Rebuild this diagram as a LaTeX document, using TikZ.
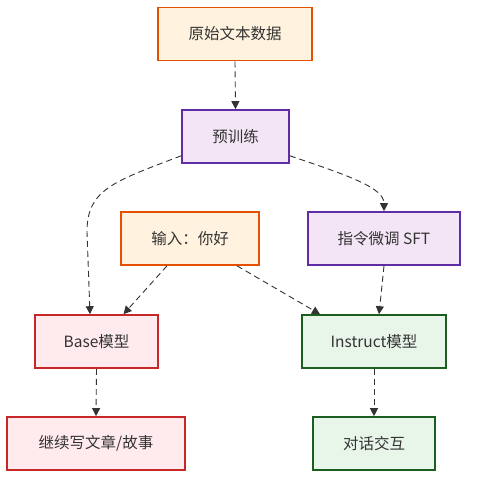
\documentclass[tikz,border=0pt]{standalone}
\usepackage{fontspec}
\setmainfont{Noto Sans CJK SC}
\usetikzlibrary{arrows.meta}
\definecolor{txt}{HTML}{333333}
\definecolor{orgB}{HTML}{E65100}\definecolor{orgF}{HTML}{FFF3E0}
\definecolor{purB}{HTML}{5E2CA5}\definecolor{purF}{HTML}{F3E5F5}
\definecolor{redB}{HTML}{C62828}\definecolor{redF}{HTML}{FFEBEE}
\definecolor{grnB}{HTML}{1B5E20}\definecolor{grnF}{HTML}{E8F5E9}
\tikzset{
  box/.style={rectangle, line width=1.6pt, inner sep=0pt, minimum height=53pt, text=txt, font=\fontsize{15.5}{18}\selectfont},
  orgbox/.style={box, draw=orgB, fill=orgF},
  purbox/.style={box, draw=purB, fill=purF},
  redbox/.style={box, draw=redB, fill=redF},
  grnbox/.style={box, draw=grnB, fill=grnF},
  link/.style={draw=txt, line width=0.9pt, dash pattern=on 6pt off 4pt, -{Triangle[length=8pt,width=8pt]}},
}
\begin{document}
\begin{tikzpicture}[x=1pt,y=-1pt]
\useasboundingbox (0,0) rectangle (476,486);
\node[orgbox, minimum width=154pt] (raw) at (235,34) {原始文本数据};
\node[purbox, minimum width=107pt] (pre) at (235.5,136.5) {预训练};
\node[orgbox, minimum width=138pt] (inp) at (190,238.5) {输入：你好};
\node[purbox, minimum width=152pt] (sft) at (384,238.5) {指令微调 SFT};
\node[redbox, minimum width=123pt] (base) at (96.5,341.5) {Base模型};
\node[grnbox, minimum width=144pt] (ins) at (374,341.5) {Instruct模型};
\node[redbox, minimum width=178pt] (cont) at (96,443.5) {继续写文章/故事};
\node[grnbox, minimum width=122pt] (chat) at (374,443.5) {对话交互};

\draw[link] (raw.south) -- (pre.north);
\draw[link] ([yshift=8pt]pre.south west) .. controls (112,182) and (87,190) .. (87,232) -- ([xshift=-6.5pt]base.north);
\draw[link] ([yshift=8pt]pre.south east) .. controls (350,176) and (384,188) .. (sft.north);
\draw[link] ([xshift=-23pt]inp.south) -- ([xshift=27pt]base.north);
\draw[link] ([xshift=47pt]inp.south) -- ([xshift=-54pt]ins.north);
\draw[link] (sft.south) -- ([xshift=5pt]ins.north);
\draw[link] (base.south) -- (cont.north);
\draw[link] (ins.south) -- (chat.north);
\end{tikzpicture}
\end{document}
